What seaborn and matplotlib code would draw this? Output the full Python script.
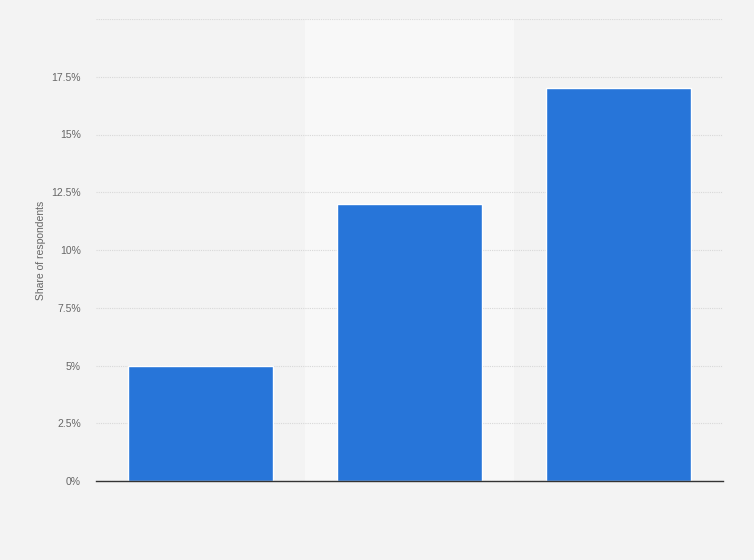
import matplotlib
matplotlib.use("Agg")
import matplotlib.pyplot as plt
import seaborn as sns
import pandas as pd

categories = ["Group 1", "Group 2", "Group 3"]
values = [5, 12, 17]
yticks = [0, 2.5, 5, 7.5, 10, 12.5, 15, 17.5, 20]
ytick_labels = ["0%", "2.5%", "5%", "7.5%", "10%", "12.5%", "15%", "17.5%", ""]

sns.set_theme(style="white")
plt.rcParams['font.family'] = ['Liberation Sans', 'DejaVu Sans']

df = pd.DataFrame({"category": categories, "value": values})

fig = plt.figure(figsize=(7.54, 5.6), dpi=100)
fig.patch.set_facecolor("#f3f3f3")
ax = fig.add_axes([96/754, 79/560, (723-96)/754, (481-19)/560])
ax.set_facecolor("#f3f3f3")

# lighter middle band
ax.axvspan(0.5, 1.5, color="#f8f8f8", zorder=0, lw=0)

sns.barplot(data=df, x="category", y="value", color="#2775d9", width=0.69,
            saturation=1, ax=ax, zorder=3)

ax.set_xlim(-0.5, 2.5)
ax.set_ylim(0, 20)
ax.set_yticks(yticks)
ax.set_yticklabels(ytick_labels, fontsize=7.5, color="#666666")
ax.set_xticks(range(len(categories)))
ax.set_xticklabels([""] * len(categories))
ax.tick_params(axis="both", length=0, pad=15)
ax.tick_params(axis="y", pad=11)
ax.yaxis.grid(True, linestyle=(0, (1, 1)), color="#d8d8d8", lw=0.8, zorder=1)
ax.set_axisbelow(True)
for s in ["top", "right", "left"]:
    ax.spines[s].set_visible(False)
ax.spines["bottom"].set_color("#333333")
ax.spines["bottom"].set_linewidth(1)
ax.spines["bottom"].set_zorder(5)
ax.set_xlabel("")
ax.set_ylabel("Share of respondents", fontsize=7.5, color="#666666")
ax.yaxis.set_label_coords((46 - 96) / 627, 0.5)

fig.savefig("out.png", dpi=100, facecolor=fig.get_facecolor())
